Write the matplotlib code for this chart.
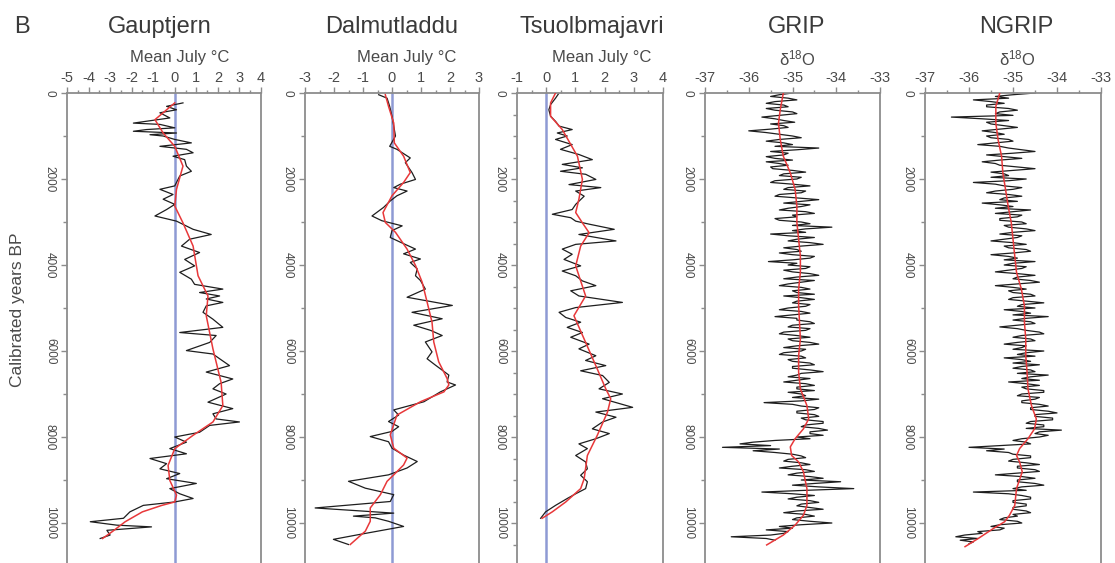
import numpy as np
import matplotlib.pyplot as plt
from matplotlib.ticker import MultipleLocator

plt.rcParams['font.family'] = ['Liberation Sans', 'DejaVu Sans']
plt.rcParams['mathtext.fontset'] = 'custom'
plt.rcParams['mathtext.rm'] = 'Liberation Sans'
plt.rcParams['mathtext.it'] = 'Liberation Sans:italic'
plt.rcParams['axes.unicode_minus'] = False

# --- Gauptjern (mean July temperature, deg C) ---
gaup_years = [230, 310, 390, 460, 580, 700, 730, 810, 850, 890,
              930, 970, 1000, 1080, 1160, 1240, 1310, 1390, 1470, 1550,
              1700, 1820, 1930, 2160, 2240, 2360, 2470, 2590, 2710, 2860,
              2980, 3170, 3290, 3400, 3560, 3710, 3870, 4020, 4170, 4330,
              4450, 4560, 4640, 4720, 4790, 4870, 4950, 5100, 5260, 5450,
              5570, 5640, 5800, 5990, 6070, 6180, 6340, 6490, 6650, 6760,
              6880, 7000, 7190, 7340, 7460, 7580, 7650, 7730, 7890, 8000,
              8120, 8270, 8390, 8500, 8620, 8740, 8850, 8970, 9080, 9200,
              9320, 9430, 9510, 9590, 9740, 9890, 9970, 10050, 10090, 10170,
              10280, 10360]
gaup_temp = [0.38, -0.38, 0.08, -0.69, -0.23, -1.92, -0.69, 0.0, -1.31, -1.92,
             0.08, -1.15, -0.54, 0.0, 0.77, -0.69, 0.54, 0.85, -0.08, 0.46,
             0.54, 0.77, 0.23, 0.0, -0.69, -0.08, -0.54, 0.0, -0.38, -0.92,
             0.08, 0.85, 1.69, 0.69, 0.31, 1.15, 0.46, 0.92, 0.23, 0.77,
             0.92, 2.23, 1.15, 2.08, 1.46, 2.23, 1.46, 1.31, 1.77, 2.23,
             0.23, 1.92, 1.62, 0.54, 1.77, 2.08, 2.54, 1.46, 2.69, 2.08,
             1.77, 2.38, 1.54, 2.69, 1.77, 1.92, 3.0, 1.62, 1.15, 0.0,
             0.54, -0.23, 0.54, -1.15, -0.38, -0.69, 0.23, -0.38, 1.0, -0.23,
             0.23, 0.85, 0.0, -1.46, -2.08, -2.38, -3.92, -2.69, -1.08, -3.15,
             -3.0, -3.46]
gaup_smooth_years = [230, 620, 930, 1240, 1700, 2240, 2630, 3020, 3560, 4250,
                     4720, 5180, 5950, 6730, 7270, 7650, 7960, 8270, 8660, 9010,
                     9350, 9510, 9590, 9740, 9970, 10200, 10360]
gaup_smooth = [0.0, -0.92, -0.54, 0.0, 0.38, 0.08, 0.0, 0.38, 0.85, 1.08,
               1.54, 1.46, 1.77, 2.15, 2.23, 1.77, 0.85, 0.0, -0.31, -0.23,
               0.08, 0.0, -0.6, -1.5, -2.3, -2.9, -3.35]

# --- Dalmutladdu ---
dalm_years = [40, 120, 310, 540, 770, 1000, 1240, 1310, 1510, 1620,
              1850, 2010, 2120, 2200, 2280, 2390, 2510, 2660, 2860, 2970,
              3090, 3200, 3360, 3470, 3630, 3740, 3860, 3940, 4090, 4250,
              4360, 4560, 4750, 4940, 5100, 5250, 5400, 5520, 5640, 5790,
              6020, 6180, 6330, 6560, 6720, 6790, 6950, 7180, 7370, 7490,
              7640, 7760, 7870, 7990, 8110, 8260, 8420, 8570, 8720, 8880,
              9030, 9190, 9340, 9500, 9650, 9770, 9840, 9880, 9960, 10080,
              10270, 10380, 10500]
dalm_temp = [-0.46, -0.17, -0.08, 0.0, 0.06, 0.12, -0.08, 0.17, 0.63, 0.46,
             0.69, 0.81, 0.29, 0.06, 0.52, 0.17, -0.06, -0.29, -0.69, -0.35,
             0.35, 0.0, -0.06, 0.29, 0.81, 0.40, 0.98, 0.63, 0.87, 0.81,
             0.98, 1.15, 0.52, 2.08, 0.69, 1.73, 0.75, 1.33, 1.73, 1.15,
             1.38, 1.21, 1.50, 1.96, 1.90, 2.19, 1.67, 1.10, 0.06, 0.23,
             -0.12, 0.23, 0.0, -0.75, -0.12, 0.0, 0.40, 0.87, 0.52, -0.12,
             -1.50, -0.92, 0.06, -0.06, -2.65, 0.06, -1.33, -0.58, -0.12, 0.40,
             -1.15, -2.02, -1.50]
dalm_smooth_years = [40, 310, 700, 1160, 1470, 1850, 2080, 2390, 2780, 3010,
                     3240, 3630, 4010, 4400, 4860, 5330, 5790, 6250, 6640, 6790,
                     6950, 7180, 7490, 7950, 8260, 8490, 8650, 8880, 9030, 9340,
                     9650, 9960, 10190, 10500]
dalm_smooth = [-0.23, -0.12, 0.06, 0.08, 0.40, 0.63, 0.40, 0.0, -0.31, -0.23,
               0.12, 0.52, 0.81, 1.04, 1.21, 1.38, 1.44, 1.61, 1.90, 1.96,
               1.79, 0.98, 0.17, -0.06, 0.06, 0.52, 0.40, 0.06, -0.17, -0.40,
               -0.75, -0.75, -0.92, -1.44]

# --- Tsuolbmajavri ---
tsuo_years = [0, 120, 270, 390, 540, 660, 770, 850, 930, 1000,
              1080, 1200, 1310, 1430, 1550, 1660, 1740, 1820, 1890, 2010,
              2130, 2200, 2280, 2400, 2590, 2710, 2820, 2900, 2980, 3050,
              3170, 3290, 3440, 3520, 3630, 3750, 3870, 4020, 4140, 4250,
              4370, 4480, 4600, 4720, 4870, 4990, 5100, 5220, 5330, 5450,
              5570, 5680, 5840, 5950, 6110, 6220, 6340, 6460, 6570, 6730,
              6880, 7000, 7110, 7310, 7420, 7540, 7650, 7810, 7920, 8040,
              8160, 8270, 8430, 8580, 8740, 8890, 9040, 9200, 9320, 9430,
              9590, 9740, 9890]
tsuo_temp = [0.44, 0.32, 0.15, 0.09, 0.15, 0.32, 0.44, 0.89, 0.38, 0.72,
             0.32, 0.89, 0.49, 1.12, 1.58, 0.55, 1.24, 0.49, 1.35, 1.70,
             0.78, 1.87, 1.01, 1.30, 1.01, 0.89, 0.21, 0.84, 1.01, 1.47,
             2.33, 1.12, 2.39, 1.01, 0.55, 0.89, 0.61, 1.18, 0.55, 1.01,
             1.24, 1.70, 0.84, 1.12, 2.61, 1.01, 0.44, 0.67, 1.18, 0.72,
             1.24, 0.84, 1.47, 1.12, 1.70, 1.35, 2.04, 1.18, 1.93, 2.16,
             1.81, 2.61, 1.93, 2.96, 1.70, 2.39, 1.93, 1.58, 2.16, 1.70,
             1.12, 1.41, 1.01, 1.35, 1.41, 1.18, 1.41, 1.35, 1.01, 0.72,
             0.32, -0.02, -0.19]
tsuo_smooth_years = [0, 230, 540, 850, 1470, 2010, 2470, 2780, 3020, 3250,
                     3560, 4020, 4720, 5180, 5800, 6420, 6880, 7110, 7420, 7960,
                     8430, 8970, 9200, 9510, 9740, 9890]
tsuo_smooth = [0.32, 0.15, 0.15, 0.55, 1.07, 1.24, 1.12, 1.01, 1.24, 1.47,
               1.18, 1.01, 1.35, 0.95, 1.35, 1.75, 2.04, 2.21, 2.10, 1.75,
               1.41, 1.30, 1.18, 0.67, 0.21, -0.14]

# --- GRIP d18O (40-yr steps, 0 to 10400 yr BP) ---
grip_d18o = [
    -35.0, -35.3, -35.5, -35.1, -34.9, -35.4, -35.6, -35.2, -35.1, -35.6,
    -35.4, -35.0, -34.9, -35.3, -35.7, -35.4, -35.2, -34.95, -35.5, -35.2,
    -35.1, -35.5, -36.0, -35.6, -35.3, -35.0, -34.8, -35.3, -35.6, -35.2,
    -35.0, -35.4, -34.4, -34.9, -35.5, -35.1, -35.2, -35.6, -35.4, -35.0,
    -35.6, -35.3, -35.1, -35.5, -35.45, -35.0, -34.7, -35.2, -35.3, -34.8,
    -34.9, -35.4, -35.5, -35.0, -34.6, -35.1, -35.2, -34.7, -34.8, -35.3,
    -35.4, -34.9, -34.4, -34.8, -35.2, -34.6, -34.8, -35.1, -35.3, -34.7,
    -34.5, -35.0, -34.9, -35.4, -35.3, -34.8, -34.6, -35.0, -34.1, -34.7,
    -35.0, -34.7, -35.5, -35.1, -34.5, -34.9, -35.1, -34.6, -34.3, -34.8,
    -35.2, -34.9, -34.8, -35.3, -35.0, -34.5, -34.6, -35.0, -35.55, -34.9,
    -35.1, -34.6, -34.7, -35.2, -35.0, -34.6, -34.4, -34.9, -35.2, -34.5,
    -34.8, -35.1, -35.3, -34.8, -34.6, -35.0, -34.9, -34.5, -35.2, -34.8,
    -34.5, -34.9, -35.0, -34.6, -34.7, -35.1, -35.3, -34.8, -34.6, -35.0,
    -35.4, -34.9, -34.9, -34.6, -34.5, -35.0, -35.1, -34.6, -34.7, -35.2,
    -35.3, -34.9, -34.6, -35.1, -35.0, -34.6, -34.4, -34.9, -35.2, -34.7,
    -34.8, -35.2, -35.3, -34.8, -34.7, -35.1, -35.0, -34.6, -34.5, -35.0,
    -35.0, -34.6, -34.3, -34.8, -34.9, -35.1, -34.6, -34.9, -35.2, -34.7,
    -34.5, -34.9, -34.9, -34.5, -35.1, -34.8, -34.7, -35.0, -34.4, -34.8,
    -35.65, -35.0, -34.8, -34.4, -34.5, -34.9, -34.9, -34.5, -34.4, -34.8,
    -34.7, -34.3, -34.3, -34.7, -34.8, -34.4, -34.2, -34.6, -34.6, -34.3,
    -34.9, -34.6, -35.4, -35.9, -36.2, -35.5, -36.6, -35.3, -35.9, -35.4,
    -35.0, -34.8, -34.7, -35.1, -35.2, -34.8, -34.6, -35.0, -35.3, -34.7,
    -34.5, -34.9, -35.1, -34.6, -34.3, -34.8, -33.9, -34.5, -35.0, -34.4,
    -33.6, -34.7, -35.7, -35.0, -34.5, -34.9, -35.1, -34.6, -34.4, -34.8,
    -34.9, -34.6, -34.3, -34.9, -35.2, -34.7, -34.5, -34.9, -35.0, -34.6,
    -34.1, -34.8, -35.3, -35.0, -35.6, -35.1, -35.2, -35.5, -36.4, -35.6,
    -35.4]
grip_years = np.linspace(0, 10400, len(grip_d18o))
grip_smooth_years = [0, 390, 700, 1080, 1470, 1860, 2240, 2630, 3010, 3400,
                     3790, 4170, 4560, 4950, 5330, 5720, 6110, 6490, 6880, 7270,
                     7580, 7810, 8040, 8230, 8430, 8580, 8810, 9200, 9590, 9820,
                     10050, 10280, 10510]
grip_smooth = [-35.21, -35.28, -35.32, -35.28, -35.21, -35.05, -34.94, -34.90, -34.90, -34.86,
               -34.82, -34.82, -34.86, -34.86, -34.84, -34.82, -34.86, -34.86, -34.82, -34.67,
               -34.63, -34.75, -34.94, -35.05, -35.02, -34.86, -34.75, -34.67, -34.67, -34.75,
               -34.94, -35.21, -35.59]

# --- NGRIP d18O (40-yr steps, 0 to 10480 yr BP) ---
ngrip_d18o = [
    -34.5, -35.0, -35.4, -35.1, -35.9, -35.5, -35.2, -35.6, -35.6, -35.1,
    -34.9, -35.3, -35.4, -35.0, -36.4, -35.7, -35.1, -35.6, -35.5, -35.2,
    -34.9, -35.3, -35.7, -35.4, -35.2, -35.6, -35.5, -35.1, -35.0, -35.4,
    -35.8, -35.3, -35.1, -34.8, -34.5, -35.0, -35.6, -35.2, -34.8, -35.3,
    -35.7, -35.4, -35.3, -34.9, -34.5, -35.0, -35.5, -35.2, -35.1, -35.5,
    -34.7, -35.1, -35.9, -35.4, -35.2, -34.8, -35.0, -35.4, -35.6, -35.1,
    -34.8, -35.2, -35.3, -34.9, -35.7, -35.3, -35.0, -35.4, -34.6, -35.0,
    -35.4, -34.8, -34.9, -35.3, -35.3, -34.8, -34.7, -35.2, -35.1, -34.7,
    -34.5, -35.0, -35.3, -34.8, -34.9, -35.2, -35.5, -35.0, -34.7, -35.2,
    -35.1, -34.7, -34.6, -35.0, -35.5, -35.1, -34.9, -35.2, -34.5, -35.0,
    -35.2, -34.7, -34.8, -35.1, -35.4, -34.9, -34.5, -34.9, -35.0, -34.6,
    -34.4, -34.9, -35.4, -35.0, -34.7, -35.1, -35.0, -34.6, -34.5, -35.0,
    -35.1, -34.7, -34.3, -34.8, -34.9, -34.5, -35.2, -34.8, -34.6, -35.0,
    -34.2, -34.7, -35.0, -34.6, -34.5, -34.9, -35.3, -34.9, -34.7, -34.4,
    -34.3, -34.8, -35.0, -34.6, -34.5, -34.9, -35.2, -34.7, -34.8, -35.0,
    -34.3, -34.7, -34.9, -34.5, -35.2, -34.8, -34.6, -35.0, -34.4, -34.8,
    -35.0, -34.6, -34.5, -34.9, -34.2, -34.6, -34.8, -34.4, -35.1, -34.7,
    -34.4, -34.8, -34.7, -34.3, -34.3, -34.8, -34.9, -34.4, -34.5, -34.8,
    -34.8, -34.4, -34.2, -34.6, -34.6, -34.2, -34.0, -34.5, -34.5, -34.1,
    -34.1, -34.6, -34.7, -34.3, -34.3, -34.7, -33.9, -34.4, -34.5, -34.2,
    -34.4, -34.8, -35.0, -34.7, -34.6, -35.3, -36.0, -35.2, -35.6, -35.1,
    -35.0, -34.6, -34.6, -35.0, -35.1, -34.7, -34.4, -34.9, -34.9, -34.5,
    -34.4, -34.9, -35.4, -34.8, -34.5, -34.9, -34.9, -34.5, -34.3, -34.8,
    -35.0, -34.7, -35.9, -35.1, -34.8, -34.6, -34.6, -35.0, -35.0, -34.7,
    -34.7, -35.0, -35.0, -34.7, -34.6, -35.0, -34.9, -35.2, -35.3, -34.9,
    -34.8, -35.3, -35.5, -35.2, -35.3, -35.8, -35.7, -36.1, -36.3, -35.8,
    -36.2, -35.9, -36.0]
ngrip_years = np.linspace(0, 10480, len(ngrip_d18o))
ngrip_smooth_years = [0, 310, 700, 1080, 1470, 1860, 2240, 2630, 3010, 3400,
                      3790, 4170, 4560, 4950, 5330, 5720, 6110, 6490, 6880, 7270,
                      7580, 7810, 8040, 8270, 8430, 8580, 8810, 9200, 9590, 9820,
                      9970, 10130, 10360, 10550]
ngrip_smooth = [-35.30, -35.39, -35.39, -35.34, -35.26, -35.23, -35.17, -35.11, -35.04, -35.0,
                -34.96, -34.92, -34.81, -34.74, -34.74, -34.71, -34.71, -34.68, -34.66, -34.58,
                -34.47, -34.51, -34.66, -34.85, -34.92, -34.85, -34.79, -34.92, -34.96, -35.08,
                -35.19, -35.45, -35.79, -36.09]

# ---------------------------------------------------------------
W, H = 1115, 563
TOP = 93
fig = plt.figure(figsize=(W / 100, H / 100), dpi=100)

TXT = '#4a4a4a'
FRAME = '#8c8c8c'
BLUE = '#8e9ad4'
BLACK = '#1e1e1e'
RED = '#e8383a'

temp_label = 'Mean July °C'
iso_label = 'δ$^{18}$O'

# name, axes x-span (px), xlim, x label, title x, label x, y minor step, zero line, data
panels = [
    ('Gauptjern', (67, 261), (-5, 4), temp_label, 160, 180, 1000, True,
     gaup_years, gaup_temp, gaup_smooth_years, gaup_smooth),
    ('Dalmutladdu', (305, 479), (-3, 3), temp_label, 392, 407, 1000, True,
     dalm_years, dalm_temp, dalm_smooth_years, dalm_smooth),
    ('Tsuolbmajavri', (517, 663), (-1, 4), temp_label, 592, 602, 500, True,
     tsuo_years, tsuo_temp, tsuo_smooth_years, tsuo_smooth),
    ('GRIP', (705, 880), (-37, -33), iso_label, 797, 797, 1000, False,
     grip_years, grip_d18o, grip_smooth_years, grip_smooth),
    ('NGRIP', (925, 1101), (-37, -33), iso_label, 1016, 1017, 1000, False,
     ngrip_years, ngrip_d18o, ngrip_smooth_years, ngrip_smooth),
]

for (name, (x0, x1), xlim, xlab, tx, lx, yminor, zero_line,
     yrs, vals, syrs, svals) in panels:
    ax = fig.add_axes([x0 / W, 0, (x1 - x0) / W, (H - TOP) / H])
    if zero_line:
        ax.axvline(0, color=BLUE, lw=1.8, zorder=1)
    ax.plot(vals, yrs, color=BLACK, lw=0.9, zorder=2)
    ax.plot(svals, syrs, color=RED, lw=1.1, zorder=3)

    ax.set_xlim(*xlim)
    ax.set_ylim(10930, 0)
    ax.xaxis.tick_top()
    ax.xaxis.set_major_locator(MultipleLocator(1))
    ax.xaxis.set_minor_locator(MultipleLocator(0.5))
    ax.yaxis.set_major_locator(MultipleLocator(2000))
    ax.yaxis.set_minor_locator(MultipleLocator(yminor))

    ax.tick_params(which='both', direction='out', color=FRAME, labelcolor=TXT, width=1)
    ax.tick_params(axis='x', which='major', length=4, labelsize=10.5, pad=1.5)
    ax.tick_params(axis='x', which='minor', length=2.5)
    ax.tick_params(axis='y', which='major', length=4, labelsize=8.5, pad=4,
                   labelrotation=-90)
    ax.tick_params(axis='y', which='minor', length=3)
    plt.setp(ax.get_yticklabels(), va='center', ha='right')

    for side in ('left', 'right', 'top'):
        ax.spines[side].set_color(FRAME)
        ax.spines[side].set_linewidth(1.3)
    ax.spines['bottom'].set_visible(False)

    fig.text(tx / W, 1 - 27 / H, name, ha='center', va='center',
             fontsize=17, color='#3a3a3a')
    fig.text(lx / W, 1 - 58 / H, xlab, ha='center', va='center',
             fontsize=12, color=TXT)

fig.text(22 / W, 1 - 27 / H, 'B', ha='center', va='center', fontsize=17, color='#3a3a3a')
fig.text(18 / W, 1 - 310 / H, 'Calibrated years BP', ha='center', va='center',
         rotation=90, fontsize=12.5, color=TXT)

fig.savefig('out.png', dpi=100)
